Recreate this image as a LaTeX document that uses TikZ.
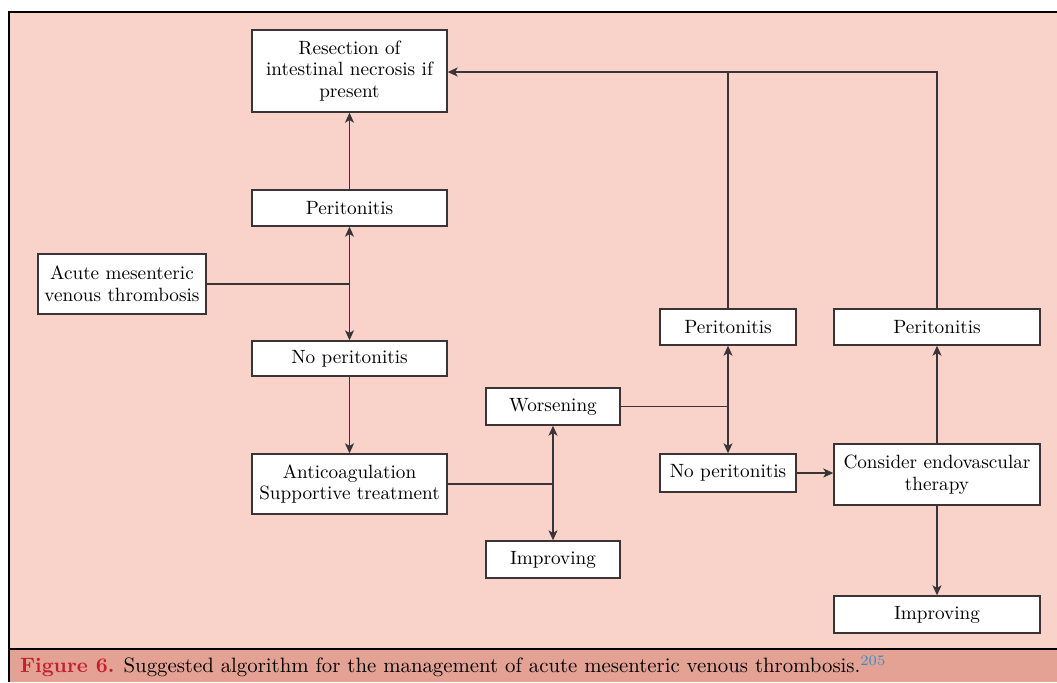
\documentclass[tikz,border=0pt]{standalone}
\usetikzlibrary{arrows.meta}
\definecolor{bgpink}{HTML}{F9D3C9}
\definecolor{cappink}{HTML}{E4A294}
\definecolor{figred}{HTML}{C4202F}
\definecolor{refblue}{HTML}{2E8FC9}
\definecolor{edge}{HTML}{3A3436}
\begin{document}
\begin{tikzpicture}[x=0.5pt,y=-0.5pt,
  box/.style={draw=edge,line width=0.7pt,fill=white,align=center,inner sep=0pt,
    font=\fontsize{9.6}{10.8}\selectfont},
  conn/.style={draw=edge,line width=0.65pt},
  arr/.style={conn,-{Stealth[length=5pt,width=4.5pt,inset=1.3pt]}}]
\useasboundingbox (0,0) rectangle (1057,682);
\fill[white] (0,0) rectangle (1057,682);
\fill[bgpink] (9,12) rectangle (1057,649);
\fill[cappink] (9,649) rectangle (1057,682);
\draw[line width=1pt] (1057,12) -- (9,12) -- (9,682);
\draw[line width=1pt] (9,649) -- (1057,649);
\node[anchor=west,font=\fontsize{10.4}{12}\selectfont] (cap) at (13,666)
  {\textcolor{figred}{\textbf{Figure 6.}} Suggested algorithm for the management of acute mesenteric venous thrombosis.\textsuperscript{\textcolor{refblue}{205}}};

\node[box,minimum width=97.5pt,minimum height=41pt] (res) at (349.5,71) {Resection of\\intestinal necrosis if\\present};
\node[box,minimum width=97.5pt,minimum height=18pt] (per1) at (349.5,208) {Peritonitis};
\node[box,minimum width=84pt,minimum height=30pt] (acute) at (122,284) {Acute mesenteric\\venous thrombosis};
\node[box,minimum width=97.5pt,minimum height=17.5pt] (noper1) at (349.5,358.5) {No peritonitis};
\node[box,minimum width=97.5pt,minimum height=30pt] (anti) at (349.5,484) {Anticoagulation\\Supportive treatment};
\node[box,minimum width=67pt,minimum height=18.5pt] (wors) at (553,406.5) {Worsening};
\node[box,minimum width=67pt,minimum height=18.5pt] (imp1) at (553,559.5) {Improving};
\node[box,minimum width=68pt,minimum height=18pt] (per2) at (728,327) {Peritonitis};
\node[box,minimum width=68pt,minimum height=19pt] (noper2) at (728,473) {No peritonitis};
\node[box,minimum width=103pt,minimum height=30.5pt] (cons) at (937,474.5) {Consider endovascular\\therapy};
\node[box,minimum width=103pt,minimum height=18pt] (per3) at (937,327) {Peritonitis};
\node[box,minimum width=103pt,minimum height=18.5pt] (imp2) at (937,614.5) {Improving};

\coordinate (j1) at (349.5,284);
\coordinate (j2) at (553,484);
\coordinate (j3) at (728,406.5);
\coordinate (t2) at (728,72);
\coordinate (t3) at (937,72);

\draw[conn] (acute.east) -- (j1);
\draw[arr] (j1) -- (per1.south);
\draw[arr] (j1) -- (noper1.north);
\draw[arr] (per1.north) -- (res.south);
\draw[arr] (noper1.south) -- (anti.north);
\draw[conn] (anti.east) -- (j2);
\draw[arr] (j2) -- (wors.south);
\draw[arr] (j2) -- (imp1.north);
\draw[conn] (wors.east) -- (j3);
\draw[arr] (j3) -- (per2.south);
\draw[arr] (j3) -- (noper2.north);
\draw[arr] (noper2.east) -- (noper2.east -| cons.west);
\draw[arr] (cons.north) -- (per3.south);
\draw[arr] (cons.south) -- (imp2.north);
\draw[conn] (per2.north) -- (t2);
\draw[conn] (per3.north) -- (t3) -- (t2);
\draw[arr] (t2) -- (res.east |- t2);
\end{tikzpicture}
\end{document}
